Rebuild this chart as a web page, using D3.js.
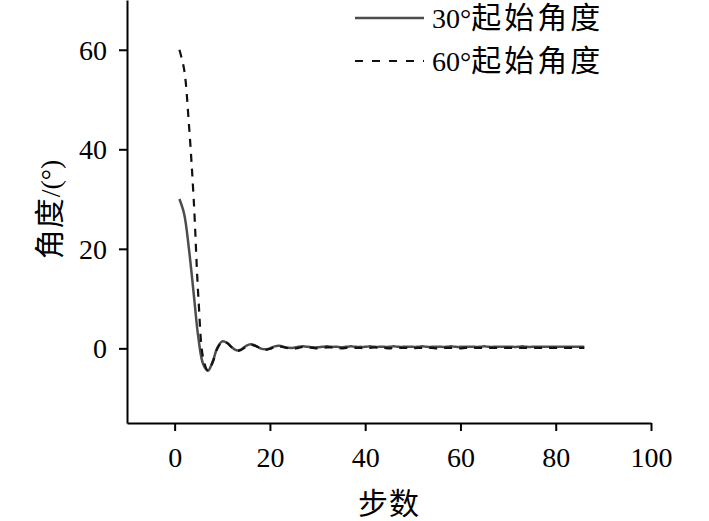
<!DOCTYPE html>
<html>
<head>
<meta charset="utf-8">
<script src="https://cdn.jsdelivr.net/npm/d3@7"></script>
<style>
  html, body { margin: 0; padding: 0; background: #fff; }
  svg { display: block; }
  text { font-family: "Liberation Serif", "Noto Sans CJK SC", serif; fill: #000; }
</style>
</head>
<body>
<svg id="chart" width="709" height="521"></svg>
<script>
// ---- data ----
const steps = d3.range(1, 87); // 1..86
const angle30 = [
  30, 27, 20, 11, 2, -3.2, -4.5, -2.6, 0.2, 1.4,
  1.1, 0.2, -0.4, -0.2, 0.5, 0.8, 0.5, 0.0, -0.2, 0.0,
  0.4, 0.5, 0.3, 0.1, 0.1, 0.3, 0.4, 0.3, 0.2, 0.2,
  0.3, 0.4, 0.3, 0.3, 0.2, 0.3, 0.4, 0.3, 0.3, 0.3,
  0.4, 0.3, 0.3, 0.3, 0.3, 0.4, 0.3, 0.3, 0.3, 0.3,
  0.3, 0.4, 0.3, 0.3, 0.3, 0.3, 0.3, 0.4, 0.3, 0.3,
  0.3, 0.3, 0.3, 0.3, 0.4, 0.3, 0.3, 0.3, 0.3, 0.3,
  0.3, 0.3, 0.4, 0.3, 0.3, 0.3, 0.3, 0.3, 0.3, 0.3,
  0.3, 0.3, 0.3, 0.3, 0.3, 0.3
];
const angle60 = [
  60, 56, 45, 30, 10, -2, -4.5, -2.8, 0.0, 1.3,
  1.1, 0.2, -0.5, -0.3, 0.3, 0.7, 0.5, 0.0, -0.3, -0.1,
  0.3, 0.4, 0.2, 0.0, -0.1, 0.1, 0.3, 0.2, 0.1, 0.0,
  0.1, 0.2, 0.2, 0.1, 0.0, 0.1, 0.2, 0.1, 0.1, 0.0,
  0.1, 0.2, 0.1, 0.1, 0.0, 0.1, 0.1, 0.1, 0.1, 0.0,
  0.1, 0.1, 0.1, 0.1, 0.0, 0.1, 0.1, 0.1, 0.1, 0.0,
  0.1, 0.1, 0.1, 0.1, 0.1, 0.1, 0.1, 0.1, 0.1, 0.1,
  0.1, 0.1, 0.1, 0.1, 0.1, 0.1, 0.1, 0.1, 0.1, 0.1,
  0.1, 0.1, 0.1, 0.1, 0.1, 0.1
];
const xTicks = [0, 20, 40, 60, 80, 100];
const yTicks = [0, 20, 40, 60];
const seriesNames = ["30°起始角度", "60°起始角度"];
const xTitle = "步数";
const yTitle = "角度/(°)";

// ---- layout ----
const svg = d3.select("#chart");
const x = d3.scaleLinear().domain([-10, 100]).range([127, 651]);
const y = d3.scaleLinear().domain([-15, 70]).range([423, 0]);
const FS = 28;     // latin digits
const FS_CJK = 30; // CJK glyphs

// helper: write text with CJK runs in a slightly bigger size
function richText(sel, str, spacing) {
  const parts = str.match(/[\u4e00-\u9fff]+|[^\u4e00-\u9fff]+/g);
  parts.forEach(p => {
    const cjk = /[\u4e00-\u9fff]/.test(p);
    sel.append("tspan").style("font-size", (cjk ? FS_CJK : FS) + "px")
      .style("letter-spacing", cjk ? (spacing || 1) + "px" : null).text(p);
  });
}

// axes
const xAxis = svg.append("g").attr("transform", `translate(0,${y.range()[0]})`)
  .call(d3.axisBottom(x).tickValues(xTicks).tickSize(8).tickSizeOuter(0).tickFormat(d3.format("d")));
xAxis.select(".domain").attr("stroke", "#000").attr("stroke-width", 2);
xAxis.selectAll(".tick line").attr("stroke", "#000").attr("stroke-width", 2);
xAxis.selectAll(".tick text").attr("y", 44).attr("dy", null)
  .style("font-size", FS + "px").style("font-family", "'Liberation Serif', serif");

const yAxis = svg.append("g").attr("transform", `translate(${x.range()[0]},0)`)
  .call(d3.axisLeft(y).tickValues(yTicks).tickSize(8).tickSizeOuter(0).tickPadding(12).tickFormat(d3.format("d")));
yAxis.select(".domain").attr("stroke", "#000").attr("stroke-width", 2);
yAxis.selectAll(".tick line").attr("stroke", "#000").attr("stroke-width", 2);
yAxis.selectAll(".tick text").attr("dy", "0.33em")
  .style("font-size", FS + "px").style("font-family", "'Liberation Serif', serif");

// axis titles
svg.append("text").attr("x", (x.range()[0] + x.range()[1]) / 2).attr("y", 514)
  .attr("text-anchor", "middle").call(richText, xTitle);
svg.append("text")
  .attr("transform", `translate(60,${(y.range()[0] + y.range()[1]) / 2 - 2}) rotate(-90)`)
  .attr("text-anchor", "middle").call(richText, yTitle);

// lines
const line = d3.line().x(d => x(d[0])).y(d => y(d[1])).curve(d3.curveCatmullRom.alpha(0.5));
const d30 = steps.map((s, i) => [s, angle30[i]]);
const d60 = steps.map((s, i) => [s, angle60[i]]);

svg.append("path").datum(d30).attr("d", line)
  .attr("fill", "none").attr("stroke", "#4d4d4d").attr("stroke-width", 2.5);
svg.append("path").datum(d60).attr("d", line)
  .attr("fill", "none").attr("stroke", "#111").attr("stroke-width", 2.2)
  .attr("stroke-dasharray", "8,7");

// legend
const legend = svg.append("g");
const legendRows = [
  { name: seriesNames[0], y: 18, stroke: "#4d4d4d", dash: null, w: 2.5 },
  { name: seriesNames[1], y: 61, stroke: "#111", dash: "8,9", w: 2.2 }
];
legendRows.forEach(r => {
  legend.append("line").attr("x1", 355).attr("x2", 424).attr("y1", r.y).attr("y2", r.y)
    .attr("stroke", r.stroke).attr("stroke-width", r.w).attr("stroke-dasharray", r.dash);
  legend.append("text").attr("x", 432).attr("y", r.y + 10).call(richText, r.name, 3);
});
</script>
</body>
</html>
